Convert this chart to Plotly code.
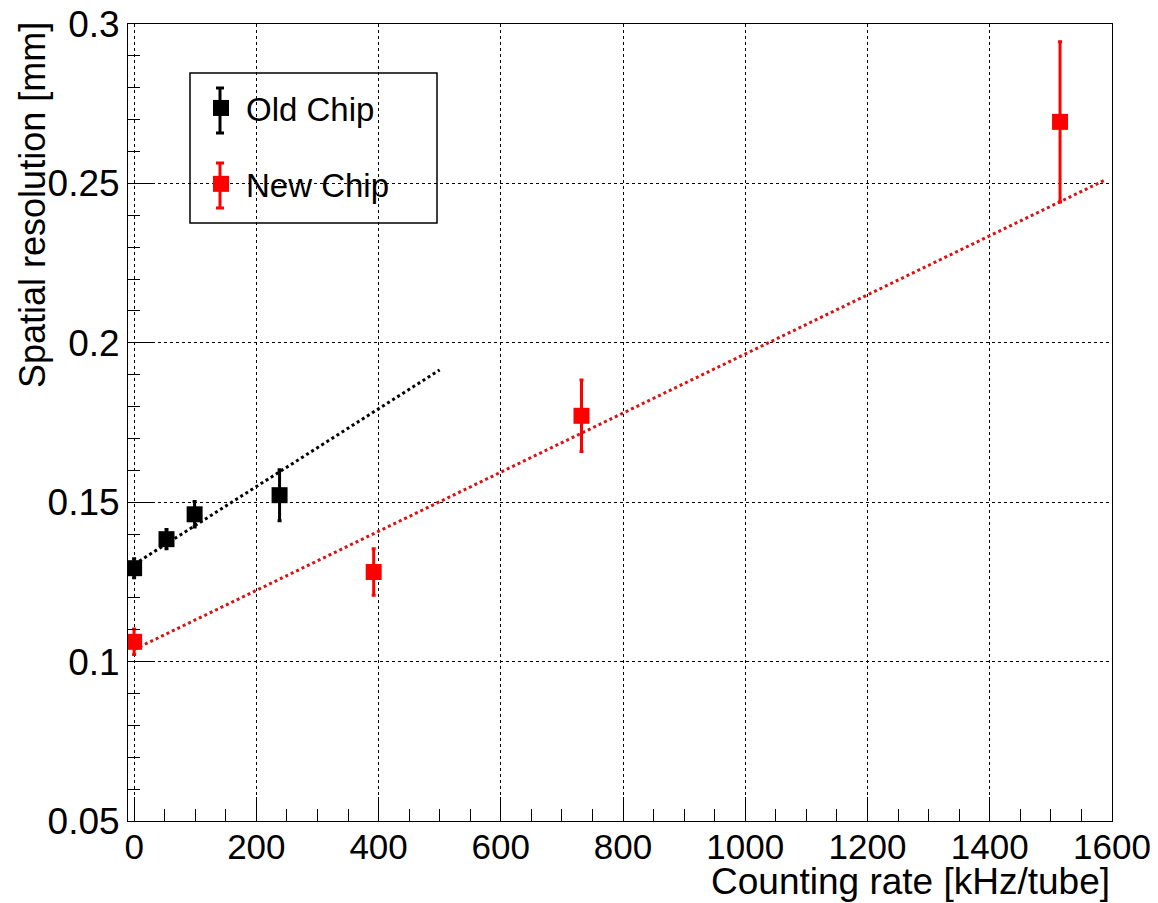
import plotly.graph_objects as go

# Data
old_x = [0, 53, 99, 238]
old_y = [0.1293, 0.1384, 0.1462, 0.1522]
old_err = [0.0030, 0.0030, 0.0040, 0.0080]

new_x = [0, 392, 732, 1515]
new_y = [0.1062, 0.1281, 0.1771, 0.2693]
new_err = [0.0040, 0.0073, 0.0112, 0.0251]

# Linear fit parameters (intercept, slope) and ranges
old_fit = (0.1305, 0.000122)
old_fit_range = [0, 500]
new_fit = (0.1038, 0.0000927)
new_fit_range = [0, 1590]

x_ticks = [0, 200, 400, 600, 800, 1000, 1200, 1400, 1600]
y_ticks = [0.05, 0.1, 0.15, 0.2, 0.25, 0.3]
y_tick_text = ["0.05", "0.1", "0.15", "0.2", "0.25", "0.3"]

FONT = "Liberation Sans, Arial, Helvetica, sans-serif"

fig = go.Figure()

fig.add_trace(go.Scatter(
    x=old_fit_range, y=[old_fit[0] + old_fit[1] * v for v in old_fit_range],
    mode="lines", line=dict(color="black", width=3, dash="dot"),
    showlegend=False, hoverinfo="skip"))
fig.add_trace(go.Scatter(
    x=new_fit_range, y=[new_fit[0] + new_fit[1] * v for v in new_fit_range],
    mode="lines", line=dict(color="#dd1111", width=3, dash="dot"),
    showlegend=False, hoverinfo="skip"))

fig.add_trace(go.Scatter(
    x=old_x, y=old_y, mode="markers", name="Old Chip", legendgroup="a",
    marker=dict(symbol="square", size=16, color="black"),
    error_y=dict(type="data", array=old_err, color="black", thickness=3, width=2)))
fig.add_trace(go.Scatter(
    x=new_x, y=new_y, mode="markers", name="New Chip", legendgroup="b",
    marker=dict(symbol="square", size=16, color="#ff0000"),
    error_y=dict(type="data", array=new_err, color="#ff0000", thickness=3, width=2)))

axis_common = dict(
    showline=True, linecolor="black", linewidth=1, mirror=True,
    ticks="inside", ticklen=24, tickwidth=1, tickcolor="black",
    showgrid=True, gridcolor="black", gridwidth=1, griddash="dot",
    zeroline=False, automargin=False,
)

fig.update_xaxes(
    range=[-10, 1600], tickmode="array",
    tickvals=x_ticks, ticktext=[str(v) for v in x_ticks],
    tickfont=dict(family=FONT, size=35, color="black"),
    ticklabelstandoff=-5,
    minor=dict(dtick=50, ticks="inside", ticklen=12, tickcolor="black", showgrid=False),
    **axis_common)
fig.update_yaxes(
    range=[0.05, 0.3], tickmode="array",
    tickvals=y_ticks, ticktext=y_tick_text,
    tickfont=dict(family=FONT, size=37, color="black"),
    minor=dict(dtick=0.01, ticks="inside", ticklen=12, tickcolor="black", showgrid=False),
    **axis_common)

W, H = 1158, 903
L, R, T, B = 128, 46, 24, 82
pw, ph = W - L - R, H - T - B

def px_x(p):
    return (p - L) / pw

def px_y(p):
    return (H - B - p) / ph

shapes = [
    # legend box
    dict(type="rect", xref="paper", yref="paper",
         x0=px_x(190), x1=px_x(437), y0=px_y(223), y1=px_y(73),
         line=dict(color="black", width=1.5), fillcolor="white", layer="below"),
]
# legend error-bar glyphs (decorative)
for (top, bot, col) in [(88, 133, "black"), (163, 208, "#ff0000")]:
    shapes.append(dict(type="line", xref="paper", yref="paper",
                       x0=px_x(220), x1=px_x(220), y0=px_y(top), y1=px_y(bot),
                       line=dict(color=col, width=3)))
    for yy in (top, bot):
        shapes.append(dict(type="line", xref="paper", yref="paper",
                           x0=px_x(216), x1=px_x(224), y0=px_y(yy), y1=px_y(yy),
                           line=dict(color=col, width=3)))

fig.update_layout(
    width=W, height=H,
    margin=dict(l=L, r=R, t=T, b=B, autoexpand=False),
    paper_bgcolor="white", plot_bgcolor="white",
    showlegend=True,
    shapes=shapes,
    legend=dict(x=px_x(196), y=px_y(80), xanchor="left", yanchor="top",
                bgcolor="rgba(0,0,0,0)", borderwidth=0, itemwidth=40,
                font=dict(family=FONT, size=33, color="black"),
                traceorder="grouped", tracegroupgap=30),
    annotations=[
        dict(text="Counting rate [kHz/tube]", xref="paper", yref="paper",
             x=1, y=px_y(881), xanchor="right", yanchor="middle",
             showarrow=False, font=dict(family=FONT, size=37, color="black")),
        dict(text="Spatial resolution [mm]", xref="paper", yref="paper",
             x=px_x(33), y=px_y(20), xanchor="center", yanchor="top",
             textangle=-90, showarrow=False,
             font=dict(family=FONT, size=36, color="black")),
    ],
)

fig.write_html("out.html", config={"displayModeBar": False},
               post_script="document.body.style.margin='0';")
